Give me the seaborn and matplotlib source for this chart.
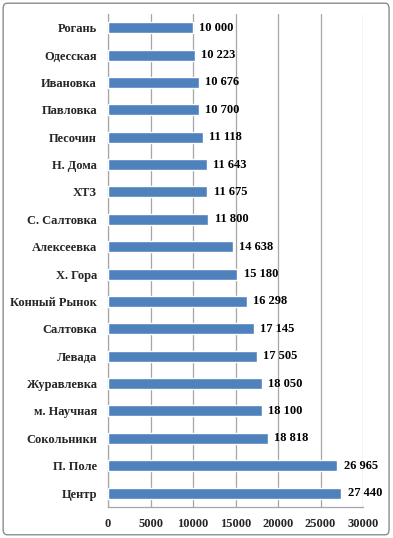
import matplotlib
matplotlib.use("Agg")
import matplotlib.pyplot as plt
import seaborn as sns
import pandas as pd
from matplotlib.patches import FancyBboxPatch

# Data (top to bottom)
districts = ['Рогань', 'Одесская', 'Ивановка', 'Павловка', 'Песочин', 'Н. Дома', 'ХТЗ',
             'С. Салтовка', 'Алексеевка', 'Х. Гора', 'Конный Рынок', 'Салтовка', 'Левада',
             'Журавлевка', 'м. Научная', 'Сокольники', 'П. Поле', 'Центр']
values = [10000, 10223, 10676, 10700, 11118, 11643, 11675, 11800, 14638, 15180,
          16298, 17145, 17505, 18050, 18100, 18818, 26965, 27440]
xticks = [0, 5000, 10000, 15000, 20000, 25000, 30000]

df = pd.DataFrame({'district': districts, 'value': values})

sns.set_theme(style='white')
plt.rcParams['font.family'] = ['Liberation Serif', 'DejaVu Serif']
plt.rcParams['font.weight'] = 'bold'

fig = plt.figure(figsize=(3.93, 5.38), dpi=100)
ax = fig.add_axes([0.275, 0.058, 0.649, 0.916])

sns.barplot(data=df, x='value', y='district', color='#4F81BD', width=0.4,
            saturation=1, ax=ax, zorder=3)

for i, v in enumerate(values):
    ax.text(v + 750, i, f'{v:,}'.replace(',', ' '), va='center', ha='left',
            fontsize=9, fontweight='bold', color='black')

ax.set_xlim(0, 30000)
ax.set_xticks(xticks)
ax.set_xticklabels([str(t) for t in xticks], fontsize=9, fontweight='bold')
ax.tick_params(axis='y', labelsize=9, length=0, pad=8)
ax.tick_params(axis='x', length=0, pad=8)
for lbl in ax.get_yticklabels():
    lbl.set_fontweight('bold')
ax.set_xlabel('')
ax.set_ylabel('')
ax.xaxis.grid(True, color='#A6A6A6', linewidth=0.9)
ax.set_axisbelow(True)
for side in ['top', 'right']:
    ax.spines[side].set_visible(False)
for side in ['left', 'bottom']:
    ax.spines[side].set_color('#A6A6A6')
    ax.spines[side].set_linewidth(0.9)

border = FancyBboxPatch((0.008, 0.006), 0.982, 0.988, boxstyle='round,pad=0,rounding_size=0.01',
                        transform=fig.transFigure, fill=False, edgecolor='#8C8C8C', linewidth=1.0)
fig.patches.append(border)

fig.savefig('out.png', dpi=100)
